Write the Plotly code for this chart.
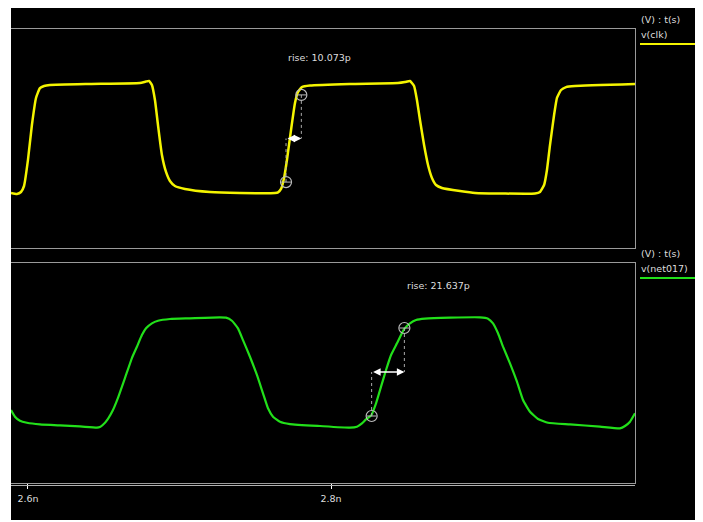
import plotly.graph_objects as go

# ---- data (time in ps, voltage normalised) ----
clk_t = [2588.8, 2592.7, 2595.4, 2597.4, 2600.0, 2602.6, 2605.3, 2607.9, 2610.6, 2614.5,
         2640.9, 2673.9, 2677.9, 2679.9, 2681.8, 2683.8, 2685.8, 2688.4, 2691.1, 2693.7,
         2697.0, 2703.6, 2720.1, 2739.9, 2763.0, 2765.0, 2767.0, 2769.0, 2770.9, 2773.6,
         2776.2, 2778.2, 2780.8, 2786.1, 2812.5, 2844.2, 2848.8, 2852.1, 2854.8, 2856.7,
         2858.7, 2861.4, 2864.0, 2866.6, 2869.3, 2873.2, 2885.1, 2895.0, 2934.6, 2937.9,
         2940.6, 2942.5, 2944.5, 2947.2, 2949.1, 2951.8, 2955.1, 2961.0, 3000.6]
clk_v = [0.0, -0.009, 0.009, 0.064, 0.303, 0.624, 0.872, 0.963, 0.982, 0.991,
         1.0, 1.009, 1.023, 1.028, 0.991, 0.853, 0.624, 0.349, 0.193, 0.11,
         0.064, 0.037, 0.009, 0.0, 0.0, 0.005, 0.037, 0.138, 0.303, 0.578,
         0.826, 0.927, 0.972, 0.986, 1.0, 1.009, 1.018, 1.028, 0.982, 0.853,
         0.67, 0.44, 0.257, 0.138, 0.073, 0.046, 0.018, 0.0, -0.005, 0.009,
         0.073, 0.211, 0.44, 0.716, 0.872, 0.945, 0.972, 0.982, 1.0]

net_t = [2588.8, 2591.4, 2594.7, 2599.3, 2607.9, 2621.1, 2634.3, 2645.5, 2647.5, 2649.5,
         2652.8, 2656.1, 2659.4, 2664.0, 2668.6, 2671.9, 2675.2, 2677.9, 2681.8, 2685.8,
         2693.7, 2706.9, 2726.7, 2730.7, 2734.6, 2738.6, 2741.9, 2746.5, 2751.1, 2755.1,
         2758.4, 2761.7, 2766.3, 2772.9, 2792.7, 2812.5, 2817.1, 2820.4, 2823.1, 2826.4,
         2829.7, 2833.0, 2836.3, 2839.6, 2843.5, 2848.2, 2852.1, 2856.1, 2862.0, 2878.5,
         2898.3, 2903.6, 2906.9, 2910.2, 2913.5, 2918.1, 2922.7, 2926.7, 2931.3, 2936.6,
         2943.2, 2957.7, 2977.5, 2990.7, 2994.0, 2997.3, 3000.6]
net_v = [0.155, 0.094, 0.057, 0.039, 0.024, 0.014, 0.005, -0.006, 0.0, 0.02,
         0.075, 0.155, 0.265, 0.445, 0.627, 0.73, 0.836, 0.897, 0.942, 0.966,
         0.982, 0.988, 0.997, 0.994, 0.966, 0.897, 0.79, 0.639, 0.473, 0.306,
         0.17, 0.094, 0.048, 0.027, 0.009, -0.006, 0.003, 0.033, 0.07, 0.103,
         0.215, 0.367, 0.518, 0.655, 0.761, 0.89, 0.942, 0.973, 0.985, 0.994,
         0.997, 0.985, 0.942, 0.852, 0.73, 0.579, 0.412, 0.245, 0.139, 0.073,
         0.039, 0.024, 0.003, -0.012, 0.009, 0.048, 0.124]

# rise measurements (10% / 90% crossing times, ps)
clk_rise = [2770.3, 2780.4]
net_rise = [2826.8, 2848.4]
levels = [0.1, 0.9]
mid = 0.5
clk_label = "rise: 10.073p"
net_label = "rise: 21.637p"

tick_vals = [2600, 2800]
tick_text = ["2.6n", "2.8n"]
x_range = [2588.8, 3000.6]

# the page body has an 8px margin, so the figure is offset by 8px
OFF = 8
W, H = 703 - OFF, 522 - OFF
def px(x): return (x - OFF) / W
def py(y): return 1 - (y - OFF) / H

YELLOW = "#f4f400"
GREEN = "#22e01a"
TXT = "#dddddd"
FRAME = "#9a9a9a"
FONT = dict(family="DejaVu Sans, Verdana, sans-serif", size=9.5, color=TXT)

fig = go.Figure()

fig.add_trace(go.Scatter(x=clk_t, y=clk_v, mode="lines", line=dict(color=YELLOW, width=2.5, shape="spline", smoothing=0.4),
                         xaxis="x", yaxis="y", hoverinfo="skip"))
fig.add_trace(go.Scatter(x=net_t, y=net_v, mode="lines", line=dict(color=GREEN, width=2.2, shape="spline", smoothing=0.4),
                         xaxis="x2", yaxis="y2", hoverinfo="skip"))

def add_measure(times, xa, ya):
    fig.add_trace(go.Scatter(x=[times[0], times[0]], y=[levels[0], mid], mode="lines",
                             line=dict(color="#aaaaaa", width=1, dash="dot"), xaxis=xa, yaxis=ya, hoverinfo="skip"))
    fig.add_trace(go.Scatter(x=[times[1], times[1]], y=[levels[1], mid], mode="lines",
                             line=dict(color="#aaaaaa", width=1, dash="dot"), xaxis=xa, yaxis=ya, hoverinfo="skip"))
    fig.add_trace(go.Scatter(x=times, y=levels, mode="markers",
                             marker=dict(symbol="circle-open", size=11, color="#bbbbbb", line=dict(width=1.2)),
                             xaxis=xa, yaxis=ya, hoverinfo="skip"))
    fig.add_trace(go.Scatter(x=times, y=levels, mode="markers",
                             marker=dict(symbol="line-ew", size=7, color="#bbbbbb", line=dict(width=1, color="#bbbbbb")),
                             xaxis=xa, yaxis=ya, hoverinfo="skip"))

add_measure(clk_rise, "x", "y")
add_measure(net_rise, "x2", "y2")

def label(x, y, text, xanchor="center"):
    return dict(x=px(x), y=py(y), xref="paper", yref="paper", text=text, showarrow=False,
                font=FONT, xanchor=xanchor, yanchor="middle")

annotations = [
    dict(x=clk_rise[1], y=mid, ax=clk_rise[0], ay=mid, xref="x", yref="y", axref="x", ayref="y",
         text="", showarrow=True, arrowside="end+start", arrowhead=2, arrowsize=1, arrowwidth=1.5, arrowcolor="white"),
    dict(x=net_rise[1], y=mid, ax=net_rise[0], ay=mid, xref="x2", yref="y2", axref="x2", ayref="y2",
         text="", showarrow=True, arrowside="end+start", arrowhead=2, arrowsize=1, arrowwidth=1.5, arrowcolor="white"),
    label(319, 57, clk_label),
    label(438, 285, net_label),
    label(639, 19, "(V) : t(s)", "left"),
    label(639, 34, "v(clk)", "left"),
    label(639, 253, "(V) : t(s)", "left"),
    label(639, 268, "v(net017)", "left"),
]

shapes = [
    dict(type="rect", xref="paper", yref="paper", x0=px(11), x1=px(696), y0=py(520), y1=py(2),
         fillcolor="black", line=dict(width=0), layer="below"),
    dict(type="line", xref="paper", yref="paper", x0=px(640), x1=px(695), y0=py(44), y1=py(44),
         line=dict(color=YELLOW, width=2)),
    dict(type="line", xref="paper", yref="paper", x0=px(640), x1=px(695), y0=py(278), y1=py(278),
         line=dict(color=GREEN, width=2)),
    dict(type="line", xref="paper", yref="paper", x0=px(11), x1=px(635), y0=py(485.5), y1=py(485.5),
         line=dict(color="#b0b0b0", width=1)),
]

xdom = [px(11), px(635)]
common_x = dict(range=x_range, domain=xdom, showgrid=False, zeroline=False, showline=True, mirror=True,
                linecolor=FRAME, linewidth=1)
common_y = dict(showgrid=False, zeroline=False, showline=True, side="right", linecolor=FRAME, linewidth=1,
                showticklabels=False, ticks="")

fig.update_layout(
    width=W, height=H, margin=dict(l=0, r=0, t=0, b=0),
    paper_bgcolor="white", plot_bgcolor="black", showlegend=False,
    xaxis=dict(**common_x, anchor="y", showticklabels=False, ticks=""),
    yaxis=dict(**common_y, domain=[py(248), py(29)], range=[-0.505, 1.505], anchor="x"),
    xaxis2=dict(**common_x, anchor="y2", tickvals=tick_vals, ticktext=tick_text, ticks="outside",
                ticklen=5, tickcolor="white", tickwidth=1, tickfont=FONT, ticklabelstandoff=2),
    yaxis2=dict(**common_y, domain=[py(483), py(263)], range=[-0.509, 1.491], anchor="x2"),
    annotations=annotations, shapes=shapes,
)

fig.write_html("out.html")
